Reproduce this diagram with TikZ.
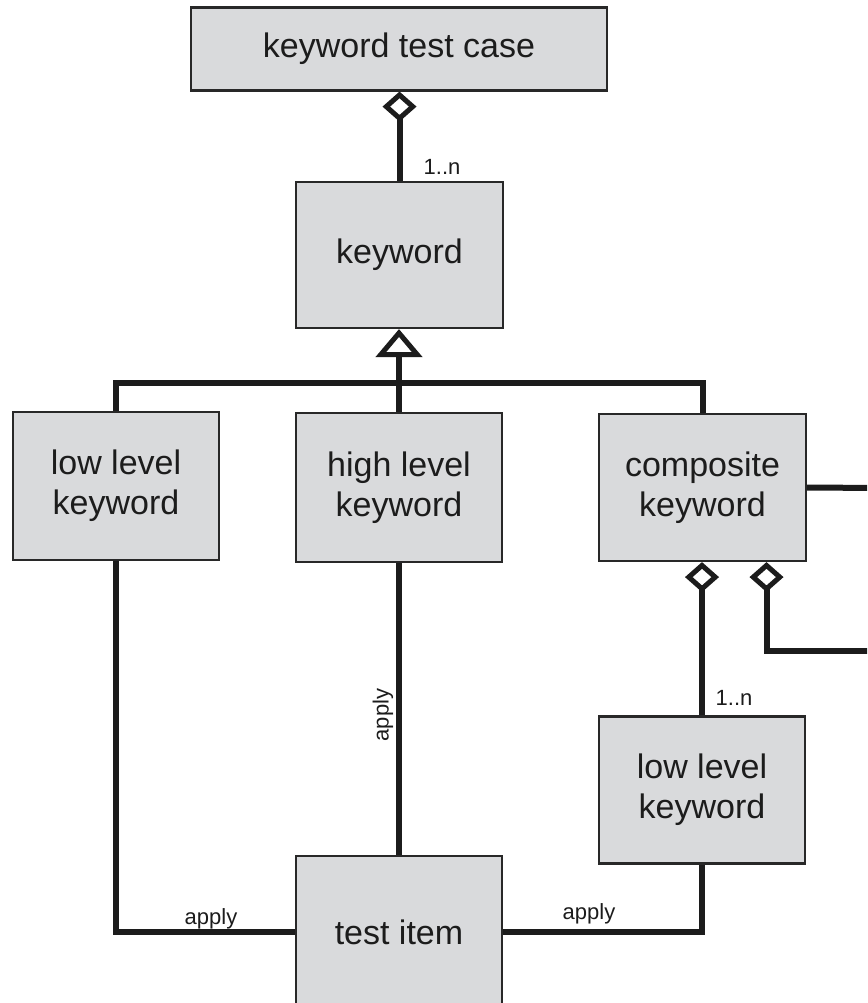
\documentclass[tikz,border=0pt]{standalone}
\usepackage{fontspec}
\setmainfont{Liberation Sans}
\usetikzlibrary{arrows.meta,calc}
\definecolor{boxfill}{RGB}{217,218,220}
\definecolor{boxline}{RGB}{40,40,40}
\definecolor{ink}{RGB}{28,28,28}
\begin{document}
\begin{tikzpicture}[x=1pt,y=-1pt,
  box/.style={draw=boxline, fill=boxfill, line width=2.2pt, align=center, inner sep=0pt,
    font=\fontsize{34}{40}\selectfont, text=ink},
  conn/.style={draw=ink, line width=6pt},
  lbl/.style={font=\fontsize{22}{26}\selectfont, text=ink, inner sep=0pt},
  agg/.style={-{Diamond[fill=white,line width=5pt,length=30pt,width=34pt]}},
  aggstart/.style={{Diamond[fill=white,line width=5pt,length=30pt,width=34pt]}-},
  gen/.style={-{Triangle[fill=white,line width=5pt,length=28pt,width=46pt]}}]
\clip (0,0) rectangle (867,1003);
\fill[white] (0,0) rectangle (867,1003);

% nodes
\node[box, minimum width=416pt, minimum height=83pt] (ktc) at (399,49) {keyword test case};
\node[box, minimum width=207pt, minimum height=146pt] (kw) at (399.5,255) {keyword};
\node[box, minimum width=206pt, minimum height=148pt] (llk1) at (116,486) {low level\\keyword};
\node[box, minimum width=206pt, minimum height=149pt] (hlk) at (399,487.5) {high level\\keyword};
\node[box, minimum width=207pt, minimum height=147pt] (ck) at (702.5,487.5) {composite\\keyword};
\node[box, minimum width=206pt, minimum height=147pt] (llk2) at (702,790) {low level\\keyword};
\node[box, minimum width=206pt, minimum height=152pt] (ti) at (399,932) {test item};

% free ends (off the right edge)
\coordinate (bar) at (0,383);
\coordinate (e1) at (880,488);
\coordinate (e2) at (880,651);
\coordinate (d2) at ($(ck.south)+(64,0)$);

% aggregation keyword -> keyword test case
\draw[conn, agg] (kw.north) -- (kw.north |- ktc.south);
\node[lbl] (m1) at (442,167) {1..n};

% generalization
\draw[conn] (llk1.north) |- (bar -| ck.north) -- (ck.north);
\draw[conn, gen] (hlk.north) -- (hlk.north |- kw.south);

% composite keyword links
\draw[conn] (ck.east) -- (e1);
\draw[conn, agg] (llk2.north) -- (llk2.north |- ck.south);
\node[lbl] (m2) at (734,698) {1..n};
\draw[conn, aggstart] (d2) |- (e2);

% apply links
\draw[conn] (llk1.south) |- (ti.west);
\node[lbl, anchor=south] (a1) at (211,929) {apply};
\draw[conn] (hlk.south) -- (ti.north);
\node[lbl, rotate=90] (a2) at (383,715) {apply};
\draw[conn] (ti.east) -| (llk2.south);
\node[lbl, anchor=south] (a3) at (589,924) {apply};
\end{tikzpicture}
\end{document}
